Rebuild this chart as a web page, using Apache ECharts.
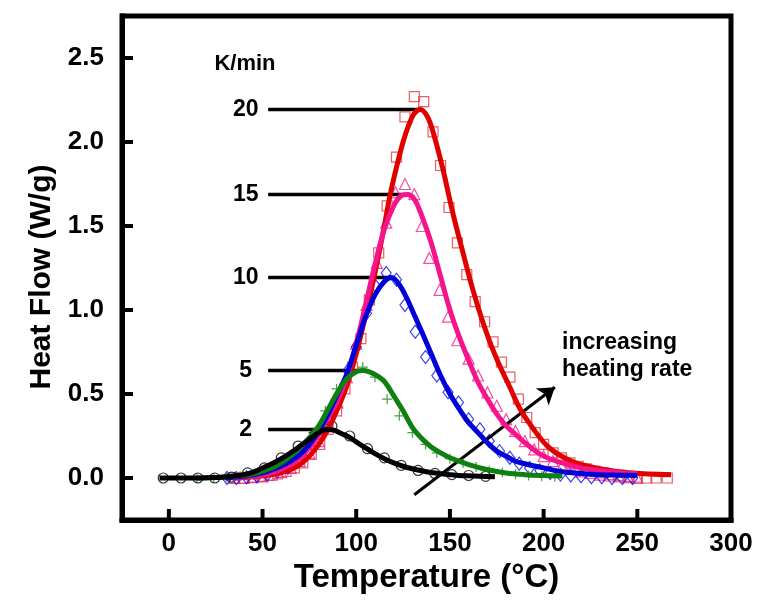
<!DOCTYPE html>
<html>
<head>
<meta charset="utf-8">
<script src="https://cdn.jsdelivr.net/npm/echarts@6.0.0/dist/echarts.min.js"></script>
<style>
  html, body { margin: 0; padding: 0; background: #fff; }
  #chart { width: 767px; height: 608px; }
</style>
</head>
<body>
<div id="chart"></div>
<script>
// Axis ticks
const tempTicks = [0, 50, 100, 150, 200, 250, 300];
const flowTicks = [0, 0.5, 1.0, 1.5, 2.0, 2.5];

// Heating rates (K/min) and the peak of each fitted curve
const rates = [2, 5, 10, 15, 20];
const peakT = [84.2, 103.4, 118.9, 127.4, 134.3];
const peakV = [0.289, 0.64, 1.193, 1.687, 2.193];

// Fitted curves: temperature (°C) and heat flow (W/g)
const fit2T = [-5, 10, 20, 30, 40, 45, 50, 55, 60, 65, 70, 75, 80, 84.2, 88, 92, 96, 100, 105, 110, 115, 120, 125, 130, 135, 140, 150, 160, 174];
const fit2V = [0, 0, 0.002, 0.006, 0.02, 0.035, 0.06, 0.085, 0.115, 0.15, 0.19, 0.23, 0.27, 0.289, 0.285, 0.265, 0.245, 0.215, 0.18, 0.145, 0.115, 0.09, 0.07, 0.055, 0.043, 0.033, 0.02, 0.013, 0.008];

const fit5T = [15, 25, 35, 45, 55, 60, 65, 70, 75, 80, 85, 90, 95, 100, 103.4, 107, 111, 115, 120, 125, 130, 135, 140, 145, 150, 155, 160, 170, 180, 190, 200, 210];
const fit5V = [0, 0.003, 0.01, 0.025, 0.06, 0.09, 0.13, 0.18, 0.24, 0.31, 0.41, 0.51, 0.59, 0.632, 0.64, 0.632, 0.61, 0.575, 0.49, 0.40, 0.30, 0.235, 0.185, 0.15, 0.12, 0.1, 0.08, 0.05, 0.03, 0.02, 0.015, 0.012];

const fit10T = [30, 40, 50, 60, 65, 70, 75, 80, 85, 90, 95, 100, 105, 110, 115, 118.9, 123, 127, 131, 135, 140, 145, 150, 155, 160, 165, 170, 175, 180, 185, 190, 200, 210, 220, 230, 240, 250];
const fit10V = [0, 0.01, 0.03, 0.07, 0.1, 0.14, 0.2, 0.28, 0.38, 0.5, 0.62, 0.79, 0.96, 1.09, 1.17, 1.193, 1.15, 1.07, 0.97, 0.87, 0.74, 0.61, 0.50, 0.41, 0.33, 0.27, 0.21, 0.16, 0.13, 0.1, 0.085, 0.06, 0.037, 0.027, 0.02, 0.017, 0.015];

const fit15T = [35, 45, 55, 65, 70, 75, 80, 85, 90, 95, 100, 105, 110, 115, 120, 124, 127.4, 131, 135, 140, 145, 150, 155, 160, 165, 170, 175, 180, 185, 190, 200, 210, 220, 230, 240, 250];
const fit15V = [0, 0.01, 0.03, 0.08, 0.12, 0.18, 0.26, 0.36, 0.46, 0.6, 0.8, 1.03, 1.27, 1.48, 1.62, 1.68, 1.687, 1.66, 1.56, 1.40, 1.20, 1.0, 0.84, 0.70, 0.57, 0.47, 0.38, 0.31, 0.26, 0.21, 0.13, 0.09, 0.06, 0.045, 0.033, 0.025];

const fit20T = [35, 45, 55, 65, 70, 75, 80, 85, 90, 95, 100, 105, 110, 115, 118, 121.5, 125, 128, 131, 134.3, 138, 141, 146, 151.5, 157, 162, 167.5, 172, 176.5, 182, 187, 194, 203, 215, 230, 247, 268];
const fit20V = [0, 0.008, 0.02, 0.05, 0.08, 0.13, 0.2, 0.29, 0.41, 0.55, 0.74, 0.97, 1.22, 1.5, 1.68, 1.85, 2.0, 2.1, 2.17, 2.193, 2.15, 2.06, 1.85, 1.58, 1.34, 1.13, 0.93, 0.79, 0.67, 0.54, 0.42, 0.3, 0.18, 0.1, 0.055, 0.03, 0.02];

// Measured points
const exp2T = [-3, 6.5, 15.5, 24.5, 33.5, 42, 51, 60, 69, 78, 87, 96.5, 106, 115, 124, 133, 142, 151, 160, 169];
const exp2V = [0, 0, 0, 0, 0.005, 0.03, 0.06, 0.12, 0.19, 0.26, 0.31, 0.25, 0.175, 0.12, 0.075, 0.045, 0.027, 0.02, 0.015, 0.01];

const exp5T = [15, 24, 31, 38, 45, 52, 59, 66, 72, 77, 83.5, 89.5, 96.5, 103.5, 110, 116.5, 123, 130, 137, 143, 150, 157, 164, 171, 178, 185, 192, 199, 206];
const exp5V = [0, 0, 0.003, 0.01, 0.02, 0.04, 0.07, 0.11, 0.17, 0.27, 0.4, 0.53, 0.62, 0.66, 0.60, 0.47, 0.37, 0.27, 0.2, 0.15, 0.115, 0.09, 0.065, 0.045, 0.032, 0.022, 0.015, 0.01, 0.008];

const exp10T = [31, 36, 41.5, 47, 52.5, 58, 63.5, 69, 74.5, 80, 85.5, 91, 95.5, 100, 105.5, 110.5, 116, 121.5, 126, 131.5, 137, 143, 149, 154.6, 160, 166, 171, 176.5, 182, 187, 192.5, 198, 203.5, 209, 214.5, 220, 225.5, 231, 236.5, 242, 247.5];
const exp10V = [0, 0, 0.005, 0.01, 0.02, 0.04, 0.06, 0.1, 0.16, 0.24, 0.35, 0.5, 0.64, 0.78, 0.98, 1.14, 1.22, 1.18, 1.03, 0.87, 0.72, 0.61, 0.51, 0.45, 0.35, 0.29, 0.22, 0.16, 0.12, 0.085, 0.06, 0.045, 0.03, 0.02, 0.015, 0.01, 0.005, 0.005, 0, 0, 0];

const exp15T = [35, 40, 45, 50, 55, 60, 65, 70, 75, 80, 85, 90, 95, 100, 105.5, 111, 116, 121, 126, 131, 135, 139, 144.5, 149, 154, 160, 165, 170, 175, 180, 185, 190, 195, 200, 205, 210, 215, 220, 225, 230, 235, 240, 245, 250];
const exp15V = [0, 0, 0.005, 0.01, 0.02, 0.035, 0.06, 0.1, 0.15, 0.22, 0.32, 0.45, 0.6, 0.8, 1.03, 1.28, 1.52, 1.70, 1.75, 1.69, 1.50, 1.31, 1.12, 0.96, 0.82, 0.71, 0.61, 0.51, 0.43, 0.35, 0.28, 0.22, 0.17, 0.13, 0.1, 0.075, 0.055, 0.04, 0.03, 0.02, 0.015, 0.01, 0.005, 0];

const exp20T = [35, 40, 44.5, 49, 53.5, 58, 62.5, 67, 71.5, 76, 80.5, 85, 89.5, 94, 98, 102.5, 107, 112, 116.5, 121.5, 126, 131, 136, 141, 145, 149.5, 154, 159, 163.5, 168.5, 173, 177.5, 182, 186.5, 191, 195.5, 200, 205, 209.5, 214, 218.5, 223, 227.5, 232, 236.5, 241, 245.5, 250, 255, 260, 266];
const exp20V = [0, 0, 0.005, 0.01, 0.015, 0.025, 0.04, 0.06, 0.09, 0.14, 0.2, 0.29, 0.4, 0.53, 0.66, 0.83, 1.06, 1.34, 1.62, 1.91, 2.15, 2.27, 2.24, 2.06, 1.86, 1.61, 1.40, 1.21, 1.05, 0.93, 0.81, 0.69, 0.60, 0.47, 0.36, 0.27, 0.20, 0.15, 0.12, 0.09, 0.07, 0.055, 0.04, 0.03, 0.02, 0.015, 0.01, 0.005, 0, 0, 0];

// Arrow marking the direction of increasing heating rate
const arrowFrom = [131, -0.10];
const arrowTo = [206, 0.54];

const X_MIN = -25, X_MAX = 300, Y_MIN = -0.25, Y_MAX = 2.75;
const FONT = '"Liberation Sans", Arial, Helvetica, sans-serif';
const zip = (xs, ys) => xs.map((x, i) => [x, ys[i]]);

const palette = {
  2:  { line: '#000000', mark: '#000000', symbol: 'circle', size: 10 },
  5:  { line: '#0f800f', mark: '#1a8a1a', symbol: 'path://M5 0 L5 10 M0 5 L10 5', size: 10 },
  10: { line: '#0000d8', mark: '#1010f0', symbol: 'diamond', size: [10, 13] },
  15: { line: '#f5148c', mark: '#f0208c', symbol: 'triangle', size: [11, 11] },
  20: { line: '#e00000', mark: '#e43a3a', symbol: 'rect', size: 10 }
};

const fits = { 2: [fit2T, fit2V], 5: [fit5T, fit5V], 10: [fit10T, fit10V], 15: [fit15T, fit15V], 20: [fit20T, fit20V] };
const exps = { 2: [exp2T, exp2V], 5: [exp5T, exp5V], 10: [exp10T, exp10V], 15: [exp15T, exp15V], 20: [exp20T, exp20V] };

const series = [];
const leaderStartT = 53;
const labelT = 41;

// Leader lines from each rate label to its peak
rates.forEach((r, i) => {
  series.push({
    type: 'line', name: 'lead' + r, z: 1, silent: true,
    data: [[leaderStartT, peakV[i]], [peakT[i], peakV[i]]],
    symbol: 'none', lineStyle: { color: '#000', width: 3.5 }, animation: false
  });
});

// Measured points (hollow markers), drawn from the highest rate down
[20, 15, 10, 5, 2].forEach((r, k) => {
  const p = palette[r];
  series.push({
    type: 'scatter', name: 'exp' + r, z: 2 + k,
    data: zip(exps[r][0], exps[r][1]),
    symbol: p.symbol, symbolSize: p.size,
    itemStyle: { color: 'rgba(0,0,0,0)', borderColor: p.mark, borderWidth: 1.2 },
    animation: false
  });
});

// Fitted curves
[20, 15, 10, 5, 2].forEach((r, k) => {
  const p = palette[r];
  series.push({
    type: 'line', name: 'fit' + r, z: 10 + k,
    data: zip(fits[r][0], fits[r][1]),
    showSymbol: false, symbol: 'none', smooth: 0.35,
    lineStyle: { color: p.line, width: 5 }, animation: false
  });
});

// Inward tick marks on the bottom and left edges, placed by the axis scales
const TICK_LEN = 11;
series.push({
  type: 'custom', name: 'xTicks', z: 30, silent: true, clip: false,
  data: tempTicks.map(v => [v, Y_MIN]),
  renderItem: (params, api) => {
    const p = api.coord([api.value(0), api.value(1)]);
    return { type: 'line', shape: { x1: p[0], y1: p[1], x2: p[0], y2: p[1] - TICK_LEN }, style: { stroke: '#000', lineWidth: 4 } };
  },
  animation: false
});
series.push({
  type: 'custom', name: 'yTicks', z: 30, silent: true, clip: false,
  data: flowTicks.map(v => [X_MIN, v]),
  renderItem: (params, api) => {
    const p = api.coord([api.value(0), api.value(1)]);
    return { type: 'line', shape: { x1: p[0], y1: p[1], x2: p[0] + TICK_LEN, y2: p[1] }, style: { stroke: '#000', lineWidth: 4 } };
  },
  animation: false
});

// Arrow
series.push({
  type: 'line', name: 'arrow', z: 21, silent: true,
  data: [arrowFrom, arrowTo], symbol: 'none',
  lineStyle: { width: 0, opacity: 0 },
  markLine: {
    silent: true, animation: false,
    symbol: ['none', 'arrow'], symbolSize: 16,
    label: { show: false },
    itemStyle: { color: '#000' },
    lineStyle: { color: '#000', width: 3, type: 'solid' },
    emphasis: { disabled: true },
    data: [[{ coord: arrowFrom }, { coord: arrowTo }]]
  }
});

const axisLine = { show: true, onZero: false, lineStyle: { color: '#000', width: 5, cap: 'square' } };

const chart = echarts.init(document.getElementById('chart'), null, { renderer: 'canvas' });
chart.setOption({
  backgroundColor: '#fff',
  animation: false,
  grid: {
    left: 122, right: 36, top: 16, bottom: 88,
    show: true, borderColor: '#000', borderWidth: 5, backgroundColor: 'rgba(0,0,0,0)'
  },
  xAxis: {
    type: 'value', min: X_MIN, max: X_MAX,
    axisLine: axisLine,
    splitLine: { show: false },
    axisTick: { show: false },
    axisLabel: { customValues: tempTicks, color: '#000', fontSize: 26, fontWeight: 'bold', fontFamily: FONT, margin: 11 },
    name: 'Temperature (°C)', nameLocation: 'middle', nameGap: 40,
    nameTextStyle: { color: '#000', fontSize: 33, fontWeight: 'bold', fontFamily: FONT }
  },
  yAxis: {
    type: 'value', min: Y_MIN, max: Y_MAX,
    axisLine: axisLine,
    splitLine: { show: false },
    axisTick: { show: false },
    axisLabel: {
      customValues: flowTicks, color: '#000', fontSize: 26, fontWeight: 'bold', fontFamily: FONT, margin: 18,
      formatter: v => v.toFixed(1)
    }
  },
  series: series
});

// Rate labels, placed through the axis scales next to each leader line
const rateText = rates.map((r, i) => {
  const p = chart.convertToPixel({ gridIndex: 0 }, [labelT, peakV[i]]);
  return {
    type: 'text', x: p[0], y: p[1], silent: true,
    style: { text: String(r), fill: '#000', font: 'bold 23px ' + FONT, align: 'center', verticalAlign: 'middle' }
  };
});

chart.setOption({
  graphic: [
    { type: 'text', x: 42, y: 277, rotation: Math.PI / 2, silent: true, style: { text: 'Heat Flow (W/g)', fill: '#000', font: 'bold 30px ' + FONT, align: 'center', verticalAlign: 'middle' } },
    { type: 'text', x: 245, y: 64, silent: true, style: { text: 'K/min', fill: '#000', font: 'bold 22px ' + FONT, align: 'center', verticalAlign: 'middle' } },
    { type: 'text', x: 562, y: 343, silent: true, style: { text: 'increasing', fill: '#000', font: 'bold 23px ' + FONT, align: 'left', verticalAlign: 'middle' } },
    { type: 'text', x: 562, y: 370, silent: true, style: { text: 'heating rate', fill: '#000', font: 'bold 23px ' + FONT, align: 'left', verticalAlign: 'middle' } }
  ].concat(rateText)
});
</script>
</body>
</html>
